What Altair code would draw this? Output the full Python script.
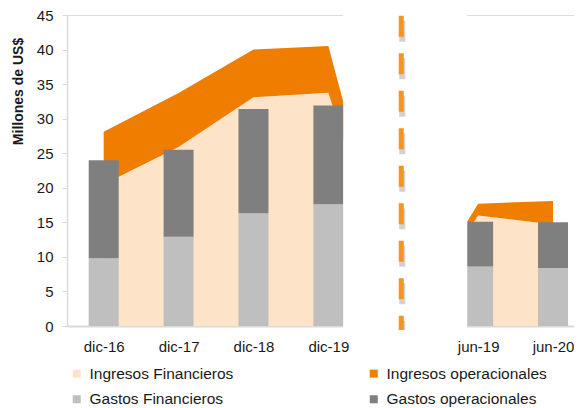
import json
import altair as alt
import pandas as pd

# ---- data ----
periods = ["dic-16", "dic-17", "dic-18", "dic-19", "jun-19", "jun-20"]
slots = [0, 1, 2, 3, 5, 6]          # position on the axis (slot 4 is the gap)
gap_slot = 4

ingresos_financieros = [20.5, 25.9, 33.1, 33.75, 16.0, 14.7]
ingresos_operacionales = [7.6, 7.8, 6.9, 6.75, 1.7, 3.4]
gastos_financieros = [9.8, 12.9, 16.3, 17.6, 8.6, 8.4]
gastos_operacionales = [14.2, 12.6, 15.1, 14.3, 6.5, 6.6]

series = ["Ingresos Financieros", "Ingresos operacionales",
          "Gastos Financieros", "Gastos operacionales"]
colors = ["#FDE4C8", "#EF7D00", "#BFBFBF", "#7F7F7F"]

y_ticks = list(range(0, 50, 5))

# ---- tables built from the lists ----
area_pts = list(zip(slots, ingresos_financieros, ingresos_operacionales)) + [(gap_slot, 0.0, 0.0)]
area_pts.sort(key=lambda r: r[0])
area_rows = []
for s, f, o in area_pts:
    area_rows.append({"x": s, "serie": series[0], "lo": 0.0, "hi": f})
    area_rows.append({"x": s, "serie": series[1], "lo": f, "hi": f + o})
area_df = pd.DataFrame(area_rows)

bar_rows = []
for s, gf, go in zip(slots, gastos_financieros, gastos_operacionales):
    bar_rows.append({"x": s, "serie": series[2], "lo": 0.0, "hi": gf})
    bar_rows.append({"x": s, "serie": series[3], "lo": gf, "hi": gf + go})
bar_df = pd.DataFrame(bar_rows)

gap_df = pd.DataFrame({"x": [gap_slot]})

labels_by_slot = [""] * 7
for s, p in zip(slots, periods):
    labels_by_slot[s] = p

FONT = "Liberation Sans"
TXT = "#1a1a1a"
AXC = "#d9d9d9"

x_scale = alt.Scale(domain=[-0.49, 6.28], nice=False, zero=False, padding=0)
x_enc = alt.X(
    "x:Q",
    scale=x_scale,
    axis=alt.Axis(
        values=slots,
        labelExpr=json.dumps(labels_by_slot) + "[datum.value]",
        title=None, grid=False, ticks=False, tickSize=0,
        labelFontSize=15, labelFont=FONT, labelColor=TXT, labelPadding=13,
        domainColor=AXC, domainWidth=1.8, zindex=0,
    ),
)

y_scale = alt.Scale(domain=[0, 45], nice=False)
y_enc = alt.Y(
    "hi:Q",
    scale=y_scale,
    stack=None,
    axis=alt.Axis(
        values=y_ticks, grid=False,
        title="Millones de US$", titleFont=FONT, titleFontSize=14, titleFontWeight="bold",
        titleColor=TXT, titleAngle=270, titleX=-49, titleY=76,
        titleAlign="center", titleBaseline="middle",
        labelFontSize=15, labelFont=FONT, labelColor=TXT, labelPadding=9,
        tickSize=5, tickColor=AXC, domainColor=AXC, domainWidth=1.5, zindex=0,
    ),
)

color_enc = alt.Color(
    "serie:N",
    scale=alt.Scale(domain=series, range=colors),
    legend=alt.Legend(
        title=None, orient="none", legendX=2, legendY=350.5, direction="horizontal",
        columns=2, columnPadding=132, rowPadding=9, gridAlign="each",
        symbolType="square", symbolSize=64, symbolStrokeWidth=0,
        labelFont=FONT, labelFontSize=15.5, labelColor=TXT, labelOffset=5,
        labelLimit=400, padding=0,
    ),
)

areas = alt.Chart(area_df).mark_area(interpolate="linear").encode(
    x=x_enc, y=y_enc, y2=alt.Y2("lo:Q"), color=color_enc,
)

bars = alt.Chart(bar_df).mark_bar(size=30).encode(
    x=x_enc, y=y_enc, y2=alt.Y2("lo:Q"), color=color_enc,
)

cover = alt.Chart(gap_df).mark_bar(color="white", size=124, xOffset=2).encode(
    x=x_enc, y=alt.value(0), y2=alt.value(314),
)

shadow = alt.Chart(gap_df).mark_rule(
    color="#9a9a9a", opacity=0.45, strokeWidth=6, strokeDash=[21, 16.5],
    strokeDashOffset=-5, xOffset=-1,
).encode(x=x_enc, y=alt.value(0.7), y2=alt.value(315))

divider = alt.Chart(gap_df).mark_rule(
    color="#F7941D", strokeWidth=5, strokeDash=[21, 16.5], xOffset=-2,
).encode(x=x_enc, y=alt.value(0.7), y2=alt.value(315))

chart = alt.layer(areas, bars, cover, shadow, divider).properties(
    width=507, height=311,
    autosize=alt.AutoSizeParams(type="none"),
    padding={"left": 59, "top": 7, "right": 0, "bottom": 84},
).configure_view(stroke=None).configure(font=FONT)

chart.save("out.html", embed_options={"renderer": "svg", "actions": False})
